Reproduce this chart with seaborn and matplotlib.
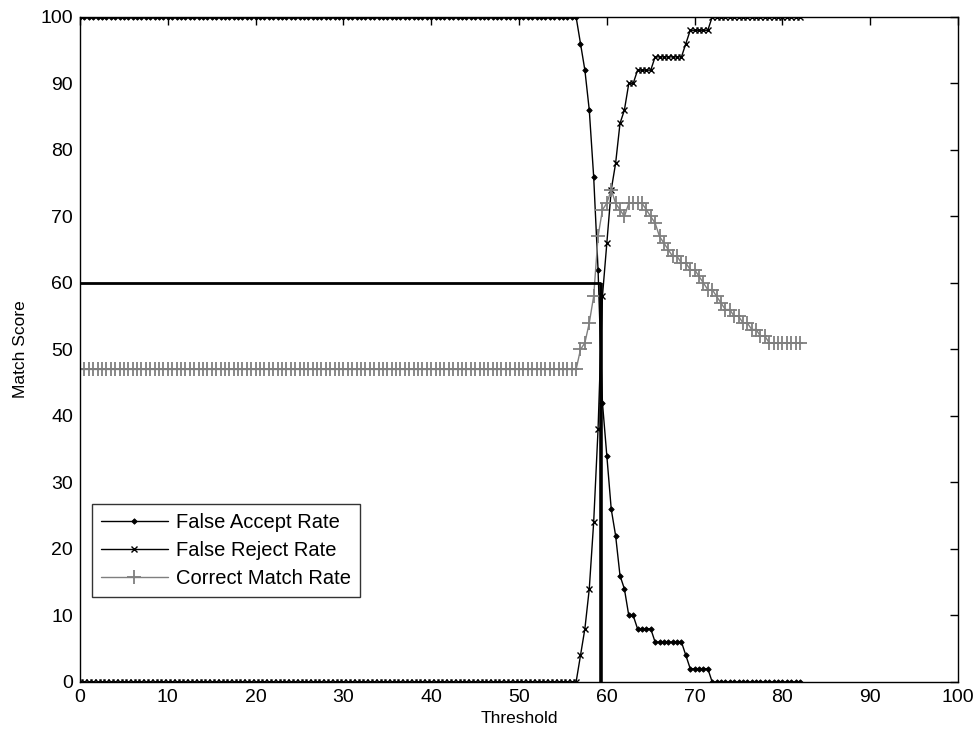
import numpy as np
import pandas as pd
import matplotlib
matplotlib.use("Agg")
import matplotlib.pyplot as plt
import seaborn as sns

# Threshold grid (step 0.5 from 0 to 82)
thresholds = np.arange(0, 82.5, 0.5)

# Flat levels below the transition (thresholds 0 .. 56.5, 114 points)
n_flat = 114
far_flat = [100] * n_flat
frr_flat = [0] * n_flat
cmr_flat = [47] * n_flat

# Transition and tail, thresholds 57.0 .. 82.0
far_tail = [96, 92, 86, 76, 62, 42, 34, 26, 22, 16, 14, 10, 10, 8, 8, 8, 8,
            6, 6, 6, 6, 6, 6, 6, 4, 2, 2, 2, 2, 2,
            0, 0, 0, 0, 0, 0, 0, 0, 0, 0, 0, 0, 0, 0, 0, 0, 0, 0, 0, 0, 0]
frr_tail = [4, 8, 14, 24, 38, 58, 66, 74, 78, 84, 86, 90, 90, 92, 92, 92, 92,
            94, 94, 94, 94, 94, 94, 94, 96, 98, 98, 98, 98, 98,
            100, 100, 100, 100, 100, 100, 100, 100, 100, 100, 100, 100, 100,
            100, 100, 100, 100, 100, 100, 100, 100]
cmr_tail = [50, 51, 54, 58, 67, 71, 72, 74, 72, 71, 70, 72, 72, 72, 72, 71,
            70, 69, 67, 66, 65, 64, 64, 63, 63, 62, 62, 61, 60, 59, 59, 58,
            57, 56, 56, 55, 55, 54, 54, 53, 53, 52, 52, 51,
            51, 51, 51, 51, 51, 51, 51]

false_accept = far_flat + far_tail
false_reject = frr_flat + frr_tail
correct_match = cmr_flat + cmr_tail

# Operating point marked by the reference lines
eer_threshold = 59.3
operating_score = 60

x_ticks = list(range(0, 101, 10))
y_ticks = list(range(0, 101, 10))

df = pd.DataFrame({
    "Threshold": thresholds,
    "FAR": false_accept,
    "FRR": false_reject,
    "CMR": correct_match,
})

sns.set_style("white")
plt.rcParams["font.family"] = ["Liberation Sans", "DejaVu Sans"]
plt.rcParams["text.color"] = "black"
plt.rcParams["axes.labelcolor"] = "black"

fig, ax = plt.subplots(figsize=(9.77, 7.38), dpi=100)
fig.subplots_adjust(left=0.0819, right=0.9806, bottom=0.0759, top=0.977)

sns.lineplot(data=df, x="Threshold", y="FAR", ax=ax, color="black",
             linewidth=1.0, marker="D", markersize=2.8,
             markeredgecolor="black", markerfacecolor="black",
             markeredgewidth=0.6, label="False Accept Rate")
sns.lineplot(data=df, x="Threshold", y="FRR", ax=ax, color="black",
             linewidth=1.0, marker="x", markersize=5,
             markeredgecolor="black", markeredgewidth=1.0,
             label="False Reject Rate")
sns.lineplot(data=df, x="Threshold", y="CMR", ax=ax, color="#7f7f7f",
             linewidth=1.0, marker="+", markersize=10,
             markeredgecolor="#7f7f7f", markeredgewidth=1.3,
             label="Correct Match Rate")

ax.hlines(operating_score, 0, eer_threshold, colors="black", linewidth=2.0)
ax.vlines(eer_threshold, 0, operating_score, colors="black", linewidth=2.6)

ax.set_xlim(0, 100)
ax.set_ylim(0, 100)
ax.set_xticks(x_ticks)
ax.set_yticks(y_ticks)
ax.tick_params(direction="in", length=6, width=1, top=True, right=True,
               labelsize=14, colors="black", pad=5)
for side in ["top", "right", "bottom", "left"]:
    ax.spines[side].set_color("black")
    ax.spines[side].set_linewidth(1.0)

ax.set_xlabel("Threshold", fontsize=12.5, labelpad=4)
ax.set_ylabel("Match Score", fontsize=12.5, labelpad=9)

leg = ax.legend(loc="lower left", bbox_to_anchor=(0.0137, 0.128),
                fancybox=False, frameon=True, edgecolor="black",
                fontsize=14.5, handlelength=3.3, handletextpad=0.4,
                labelspacing=0.45, borderpad=0.45, borderaxespad=0)
leg.get_frame().set_linewidth(1.0)
for txt in leg.get_texts():
    txt.set_color("black")

fig.savefig("out.png", dpi=100, facecolor="white")
